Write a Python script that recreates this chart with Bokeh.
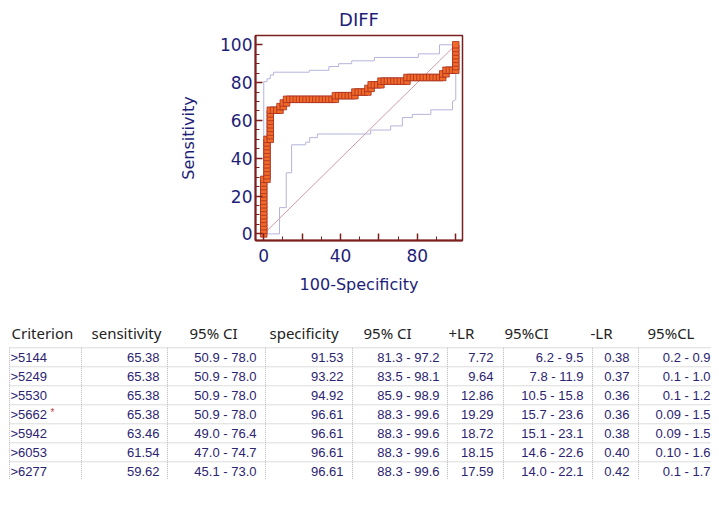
from bokeh.plotting import figure
from bokeh.layouts import column
from bokeh.models import Range1d, FixedTicker, ColumnDataSource
from bokeh.core.properties import value
from bokeh.embed import file_html
from bokeh.resources import INLINE

# ---------------- data ----------------
N_NEG = 59
N_POS = 52
# ROC staircase: false-positive counts (of 59) and true-positive counts (of 52)
roc_fp = [0, 0, 0, 0, 0, 0, 0, 0, 0, 0, 0, 0, 0, 0, 0, 0,
          1, 1, 1, 1, 1, 1, 1, 1, 1, 1, 1, 1,
          2, 2, 2, 2, 2, 2, 2, 2, 2,
          3, 4, 5, 5, 6, 6, 7, 7,
          8, 9, 10, 11, 12, 13, 14, 15, 16, 17, 18, 19, 20, 21,
          22, 22, 23, 24, 25, 26, 27, 28, 28, 29, 30, 31, 32, 32, 33, 33, 34, 35, 36, 36,
          37, 38, 39, 40, 41, 42, 43, 44, 44,
          45, 46, 47, 48, 49, 50, 51, 52, 53, 54, 55, 55, 56, 56, 57, 58,
          59, 59, 59, 59, 59, 59, 59, 59]
roc_tp = [0, 1, 2, 3, 4, 5, 6, 7, 8, 9, 10, 11, 12, 13, 14, 15,
          15, 16, 17, 18, 19, 20, 21, 22, 23, 24, 25, 26,
          26, 27, 28, 29, 30, 31, 32, 33, 34,
          34, 34, 34, 35, 35, 36, 36, 37,
          37, 37, 37, 37, 37, 37, 37, 37, 37, 37, 37, 37, 37, 37,
          37, 38, 38, 38, 38, 38, 38, 38, 39, 39, 39, 39, 39, 40, 40, 41, 41, 41, 41, 42,
          42, 42, 42, 42, 42, 42, 42, 42, 43,
          43, 43, 43, 43, 43, 43, 43, 43, 43, 43, 43, 44, 44, 45, 45, 45,
          45, 46, 47, 48, 49, 50, 51, 52]

ci_upper_x = [0, 0, 1.7, 1.7, 3.4, 3.4, 5.1, 5.1, 23.7, 23.7, 33.9, 33.9, 39.0, 39.0,
              45.8, 45.8, 57.6, 57.6, 80.5, 80.5, 91.5, 91.5, 100]
ci_upper_y = [0, 80.5, 80.5, 82.0, 82.0, 84.0, 84.0, 85.5, 85.5, 86.5, 86.5, 88.5, 88.5, 90.0,
              90.0, 91.5, 91.5, 93.3, 93.3, 95.2, 95.2, 100, 100]
ci_lower_x = [0, 8.2, 8.2, 11.7, 11.7, 14.5, 14.5, 21.8, 21.8, 23.9, 23.9, 27.9, 27.9,
              55.7, 55.7, 66.1, 66.1, 72.2, 72.2, 77.4, 77.4, 87.0, 87.0, 98.3, 98.3, 100, 100]
ci_lower_y = [0, 0, 13.9, 13.9, 32.3, 32.3, 47.1, 47.1, 48.5, 48.5, 50.9, 50.9, 52.8,
              52.8, 54.9, 54.9, 57.1, 57.1, 61.5, 61.5, 63.2, 63.2, 65.6, 65.6, 70.0, 71.0, 100]
diag_x = [0, 100]
diag_y = [0, 100]

x_ticks = [0, 20, 40, 60, 80, 100]
x_minor = [10, 30, 50, 70, 90]
x_tick_labels = {0: "0", 20: "", 40: "40", 60: "", 80: "80", 100: ""}
y_ticks = [0, 20, 40, 60, 80, 100]
y_minor = [5, 10, 15, 25, 30, 35, 45, 50, 55, 65, 70, 75, 85, 90, 95]

headers = ["Criterion", "sensitivity", "95% CI", "specificity", "95% CI",
           "+LR", "95%CI", "-LR", "95%CL"]
criterion = [">5144", ">5249", ">5530", ">5662", ">5942", ">6053", ">6277"]
youden_flag = [False, False, False, True, False, False, False]
sensitivity = ["65.38", "65.38", "65.38", "65.38", "63.46", "61.54", "59.62"]
sens_ci = ["50.9 - 78.0", "50.9 - 78.0", "50.9 - 78.0", "50.9 - 78.0",
           "49.0 - 76.4", "47.0 - 74.7", "45.1 - 73.0"]
specificity = ["91.53", "93.22", "94.92", "96.61", "96.61", "96.61", "96.61"]
spec_ci = ["81.3 - 97.2", "83.5 - 98.1", "85.9 - 98.9", "88.3 - 99.6",
           "88.3 - 99.6", "88.3 - 99.6", "88.3 - 99.6"]
plr = ["7.72", "9.64", "12.86", "19.29", "18.72", "18.15", "17.59"]
plr_ci = ["6.2 - 9.5", "7.8 - 11.9", "10.5 - 15.8", "15.7 - 23.6",
          "15.1 - 23.1", "14.6 - 22.6", "14.0 - 22.1"]
nlr = ["0.38", "0.37", "0.36", "0.36", "0.38", "0.40", "0.42"]
nlr_ci = ["0.2 - 0.9", "0.1 - 1.0", "0.1 - 1.2", "0.09 - 1.5",
          "0.09 - 1.5", "0.10 - 1.6", "0.1 - 1.7"]

# ---------------- chart ----------------
NAVY = "#1e1e78"
MAROON = "#7b1f1f"
FONT = "DejaVu Sans"

p = figure(width=711, height=300, output_backend="svg", toolbar_location=None,
           x_range=Range1d(-4.3, 103.5), y_range=Range1d(-3.5, 104.9),
           min_border_left=255, min_border_right=249, min_border_top=33,
           min_border_bottom=60, frame_align=False)
p.title.text = "DIFF"
p.title.align = "center"
p.title.text_font = FONT
p.title.text_font_size = "18px"
p.title.text_font_style = "normal"
p.title.text_color = NAVY
p.title.standoff = 12
p.xgrid.visible = False
p.ygrid.visible = False
p.outline_line_color = MAROON
p.outline_line_width = 1.5
p.background_fill_color = "white"
p.border_fill_color = "white"

for ax in (p.xaxis[0], p.yaxis[0]):
    ax.axis_line_color = MAROON
    ax.axis_line_width = 2
    ax.major_tick_line_color = MAROON
    ax.minor_tick_line_color = MAROON
    ax.major_tick_line_width = 1.5
    ax.minor_tick_line_width = 1
    ax.major_tick_in = 7
    ax.major_tick_out = 0
    ax.minor_tick_in = 4
    ax.minor_tick_out = 0
    ax.major_label_text_font = FONT
    ax.major_label_text_font_size = "17px"
    ax.major_label_text_color = NAVY
    ax.axis_label_text_font = FONT
    ax.axis_label_text_font_size = "16px"
    ax.axis_label_text_font_style = "normal"
    ax.axis_label_text_color = NAVY

p.xaxis.ticker = FixedTicker(ticks=x_ticks, minor_ticks=x_minor)
p.xaxis.major_label_overrides = x_tick_labels
p.xaxis.axis_label = "100-Specificity"
p.xaxis.major_label_standoff = 8
p.xaxis.axis_label_standoff = 10
p.yaxis.ticker = FixedTicker(ticks=y_ticks, minor_ticks=y_minor)
p.yaxis.axis_label = "Sensitivity"
p.yaxis.major_label_standoff = 3
p.yaxis.axis_label_standoff = 19

p.line(diag_x, diag_y, line_color="#d49aa6", line_width=1)
p.line(ci_upper_x, ci_upper_y, line_color="#b4b4dc", line_width=1)
p.line(ci_lower_x, ci_lower_y, line_color="#b4b4dc", line_width=1)

roc_src = ColumnDataSource(dict(
    x=[100.0 * v / N_NEG for v in roc_fp],
    y=[100.0 * v / N_POS for v in roc_tp],
))
p.line("x", "y", source=roc_src, line_color="#a0281e", line_width=1)
p.scatter("x", "y", source=roc_src, marker="square", size=6.5,
          fill_color="#f26a2a", line_color="#a8301e", line_width=0.8)

# ---------------- table ----------------
t = figure(width=711, height=195, output_backend="svg", toolbar_location=None,
           x_range=Range1d(0, 711), y_range=Range1d(195, 0),
           x_axis_type=None, y_axis_type=None, min_border=0, frame_align=False)
t.outline_line_color = None
t.xgrid.visible = False
t.ygrid.visible = False

GRID = "#b8b8b8"
row_y = [57 + 19 * k for k in range(len(criterion))]
hline_y = [47.3 + 19 * k for k in range(len(criterion))]
vline_x = [9, 81, 167, 265, 352, 447, 503, 592, 638]
t.segment(x0=9, x1=711, y0=hline_y, y1=hline_y, line_color=GRID,
          line_width=1, line_dash="1 1")
t.segment(x0=vline_x, x1=vline_x, y0=47.3, y1=179, line_color=GRID,
          line_width=1, line_dash="1 1")

header_x = [11, 91, 189, 269, 363, 448, 504, 590, 647]
t.text(x=header_x, y=32, text=headers, text_font=value("Noto Sans"),
       text_font_size="15px", text_color="#222222", text_baseline="middle",
       text_align="left")

ROWC = "#2b2370"
RF = value("Liberation Sans")
RS = "13px"
t.text(x=10, y=row_y, text=criterion, text_font=RF, text_font_size=RS,
       text_color=ROWC, text_baseline="middle", text_align="left")
star_y = [y for y, f in zip(row_y, youden_flag) if f]
t.text(x=[50] * len(star_y), y=[y - 2 for y in star_y], text=["*"] * len(star_y),
       text_font=RF, text_font_size="10px", text_color="#c04040",
       text_baseline="middle", text_align="left")
for right_x, col in [(159, sensitivity), (256, sens_ci), (343, specificity),
                     (439, spec_ci), (493, plr), (583, plr_ci), (629, nlr),
                     (710, nlr_ci)]:
    t.text(x=right_x, y=row_y, text=col, text_font=RF, text_font_size=RS,
           text_color=ROWC, text_baseline="middle", text_align="right")

layout = column(p, t, spacing=0)
open("out.html", "w").write(file_html(layout, INLINE))
